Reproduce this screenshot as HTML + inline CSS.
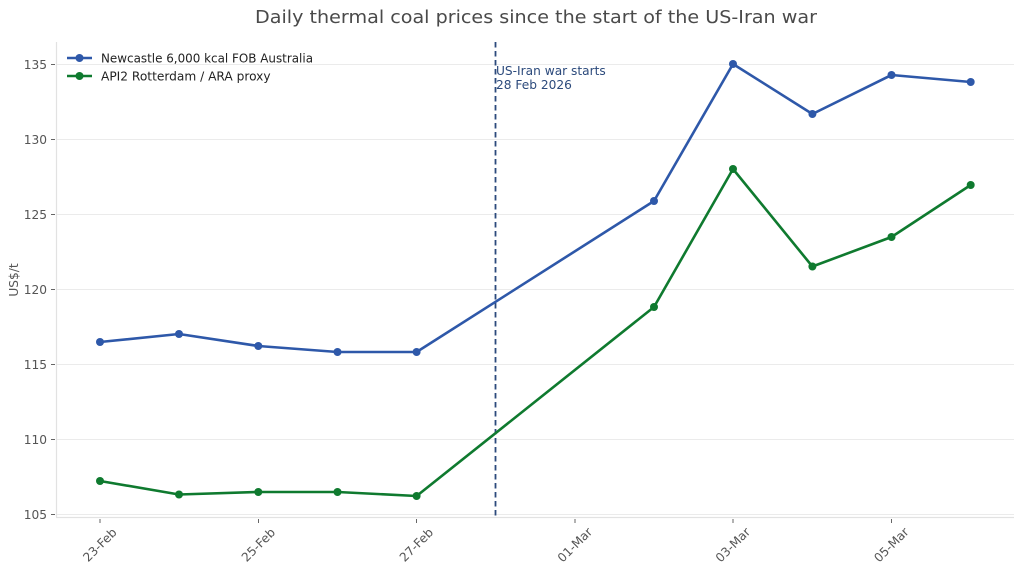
<!DOCTYPE html>
<html><head><meta charset="utf-8"><style>
html,body{margin:0;padding:0;background:#fff;}
svg{display:block;font-family:"DejaVu Sans","Liberation Sans",sans-serif;}
</style></head><body>
<svg width="1023" height="573" viewBox="0 0 1023 573" xmlns="http://www.w3.org/2000/svg">
<rect width="1023" height="573" fill="#fff"/>
<text x="536" y="23" text-anchor="middle" font-size="18" fill="#4a4a4a" textLength="562" lengthAdjust="spacingAndGlyphs">Daily thermal coal prices since the start of the US-Iran war</text>
<g stroke="#ebebeb" stroke-width="1">
<line x1="56" y1="64.5" x2="1014" y2="64.5"/>
<line x1="56" y1="139.5" x2="1014" y2="139.5"/>
<line x1="56" y1="214.5" x2="1014" y2="214.5"/>
<line x1="56" y1="289.5" x2="1014" y2="289.5"/>
<line x1="56" y1="364.5" x2="1014" y2="364.5"/>
<line x1="56" y1="439.5" x2="1014" y2="439.5"/>
<line x1="56" y1="514.5" x2="1014" y2="514.5"/>
</g>
<g stroke="#e2e2e2" stroke-width="1.2">
<line x1="56.5" y1="42" x2="56.5" y2="517.5"/>
<line x1="56" y1="517.5" x2="1014" y2="517.5"/>
</g>
<g stroke="#666" stroke-width="1">
<line x1="51" y1="64.5" x2="55" y2="64.5"/>
<line x1="51" y1="139.5" x2="55" y2="139.5"/>
<line x1="51" y1="214.5" x2="55" y2="214.5"/>
<line x1="51" y1="289.5" x2="55" y2="289.5"/>
<line x1="51" y1="364.5" x2="55" y2="364.5"/>
<line x1="51" y1="439.5" x2="55" y2="439.5"/>
<line x1="51" y1="514.5" x2="55" y2="514.5"/>
<line x1="100" y1="519" x2="100" y2="523"/>
<line x1="258.5" y1="519" x2="258.5" y2="523"/>
<line x1="416.5" y1="519" x2="416.5" y2="523"/>
<line x1="575" y1="519" x2="575" y2="523"/>
<line x1="733" y1="519" x2="733" y2="523"/>
<line x1="891.5" y1="519" x2="891.5" y2="523"/>
</g>
<g font-size="12.2" fill="#555" text-anchor="end">
<text x="47" y="69">135</text>
<text x="47" y="144">130</text>
<text x="47" y="219">125</text>
<text x="47" y="294">120</text>
<text x="47" y="369">115</text>
<text x="47" y="444">110</text>
<text x="47" y="519">105</text>
</g>
<text x="18" y="280" font-size="12.2" fill="#555" text-anchor="middle" transform="rotate(-90 18 280)">US$/t</text>
<g font-size="12.2" fill="#555" text-anchor="middle" dominant-baseline="central">
<text x="100" y="545" transform="rotate(-45 100 545)">23-Feb</text>
<text x="258.5" y="545" transform="rotate(-45 258.5 545)">25-Feb</text>
<text x="416.5" y="545" transform="rotate(-45 416.5 545)">27-Feb</text>
<text x="575" y="545" transform="rotate(-45 575 545)">01-Mar</text>
<text x="733" y="545" transform="rotate(-45 733 545)">03-Mar</text>
<text x="891.5" y="545" transform="rotate(-45 891.5 545)">05-Mar</text>
</g>
<line x1="495.5" y1="42" x2="495.5" y2="517" stroke="#2c4a7c" stroke-width="1.8" stroke-dasharray="5.5,3.5"/>
<g font-size="12.2" fill="#2c4a7c">
<text x="496" y="75">US-Iran war starts</text>
<text x="496" y="89">28 Feb 2026</text>
</g>
<polyline fill="none" stroke="#2e58a9" stroke-width="2.6" stroke-linejoin="round" points="100,342 179,334 258.3,346 337.5,352 416.6,352 654,201 733,64 812.4,114 891.5,75 970.7,82"/>
<g fill="#2e58a9">
<circle cx="100" cy="342" r="4"/><circle cx="179" cy="334" r="4"/><circle cx="258.3" cy="346" r="4"/><circle cx="337.5" cy="352" r="4"/><circle cx="416.6" cy="352" r="4"/><circle cx="654" cy="201" r="4"/><circle cx="733" cy="64" r="4"/><circle cx="812.4" cy="114" r="4"/><circle cx="891.5" cy="75" r="4"/><circle cx="970.7" cy="82" r="4"/>
</g>
<polyline fill="none" stroke="#0f7a2f" stroke-width="2.6" stroke-linejoin="round" points="100,481 179,494.5 258.3,492 337.5,492 416.6,496 654,307 733,169 812.4,266.5 891.5,237 970.7,185"/>
<g fill="#0f7a2f">
<circle cx="100" cy="481" r="4"/><circle cx="179" cy="494.5" r="4"/><circle cx="258.3" cy="492" r="4"/><circle cx="337.5" cy="492" r="4"/><circle cx="416.6" cy="496" r="4"/><circle cx="654" cy="307" r="4"/><circle cx="733" cy="169" r="4"/><circle cx="812.4" cy="266.5" r="4"/><circle cx="891.5" cy="237" r="4"/><circle cx="970.7" cy="185" r="4"/>
</g>
<line x1="67" y1="58" x2="92" y2="58" stroke="#2e58a9" stroke-width="2.6"/>
<circle cx="79.5" cy="58" r="4" fill="#2e58a9"/>
<line x1="67" y1="76" x2="92" y2="76" stroke="#0f7a2f" stroke-width="2.6"/>
<circle cx="79.5" cy="76" r="4" fill="#0f7a2f"/>
<g font-size="12.2" fill="#222">
<text x="101" y="62.5" textLength="212" lengthAdjust="spacingAndGlyphs">Newcastle 6,000 kcal FOB Australia</text>
<text x="101" y="80.5">API2 Rotterdam / ARA proxy</text>
</g>
</svg>
</body></html>
